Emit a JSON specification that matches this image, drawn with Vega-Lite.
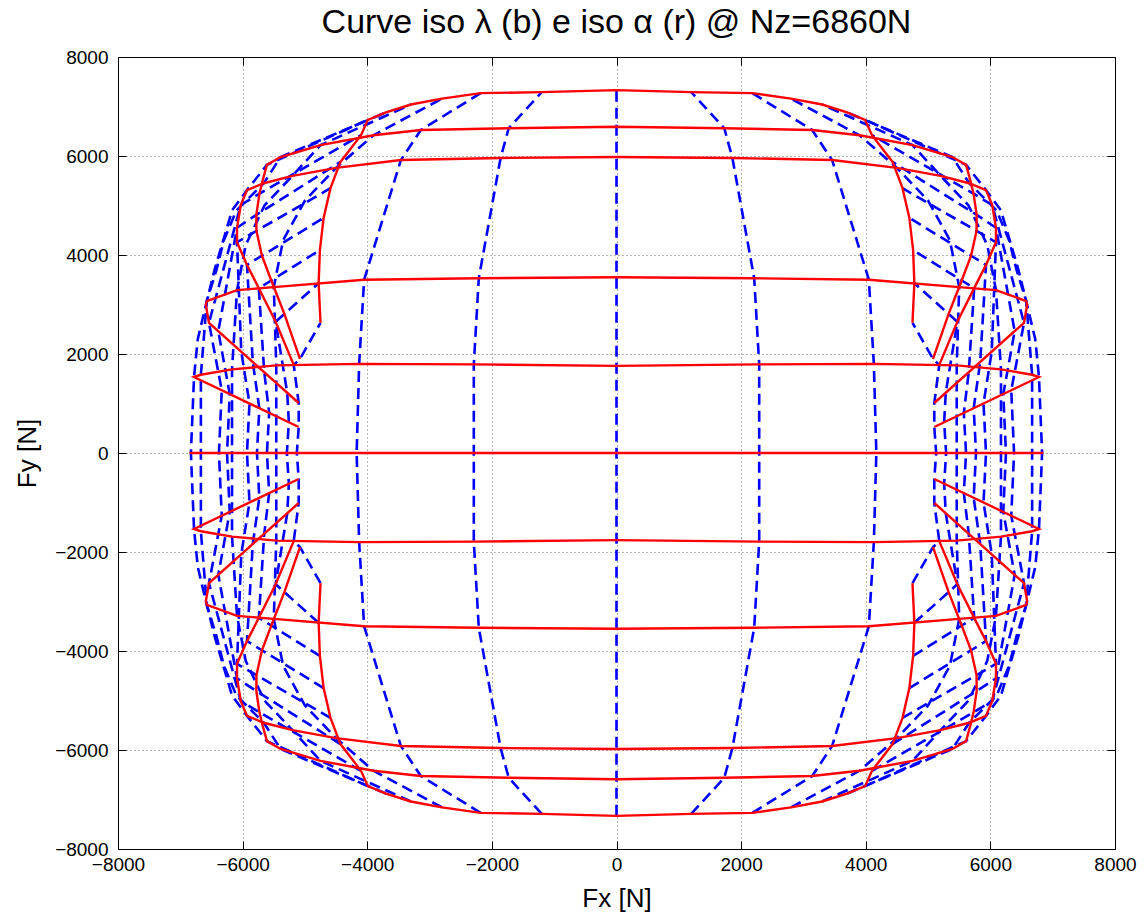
{
"$schema": "https://vega.github.io/schema/vega-lite/v6.json",
"width": 997, "height": 792,
"autosize": {"type": "none"},
"padding": {"left": 118, "top": 57, "right": 30, "bottom": 68},
"background": "white",
"title": {"text": "Curve iso λ (b) e iso α (r) @ Nz=6860N", "fontSize": 34, "font": "Liberation Sans", "fontWeight": "normal", "color": "black", "anchor": "middle", "offset": 8},
"config": {"view": {"stroke": "black", "strokeWidth": 1}},
"resolve": {"axis": {"x": "independent", "y": "independent"}},
"datasets": {
"blue": [
{"s":"b0","x":0,"y":-7330},{"s":"b0","x":0,"y":7330},
{"s":"b1R","x":1200,"y":-7290},{"s":"b1R","x":1730,"y":-6560},{"s":"b1R","x":1860,"y":-5960},{"s":"b1R","x":2210,"y":-3530},{"s":"b1R","x":2290,"y":-1790},{"s":"b1R","x":2290,"y":0},{"s":"b1R","x":2290,"y":1790},{"s":"b1R","x":2210,"y":3530},{"s":"b1R","x":1860,"y":5960},{"s":"b1R","x":1730,"y":6560},{"s":"b1R","x":1200,"y":7290},
{"s":"b1L","x":-1200,"y":-7290},{"s":"b1L","x":-1730,"y":-6560},{"s":"b1L","x":-1860,"y":-5960},{"s":"b1L","x":-2210,"y":-3530},{"s":"b1L","x":-2290,"y":-1790},{"s":"b1L","x":-2290,"y":0},{"s":"b1L","x":-2290,"y":1790},{"s":"b1L","x":-2210,"y":3530},{"s":"b1L","x":-1860,"y":5960},{"s":"b1L","x":-1730,"y":6560},{"s":"b1L","x":-1200,"y":7290},
{"s":"b2R","x":2180,"y":-7270},{"s":"b2R","x":3140,"y":-6525},{"s":"b2R","x":3460,"y":-5920},{"s":"b2R","x":4050,"y":-3500},{"s":"b2R","x":4130,"y":-1800},{"s":"b2R","x":4170,"y":0},{"s":"b2R","x":4130,"y":1800},{"s":"b2R","x":4050,"y":3500},{"s":"b2R","x":3460,"y":5920},{"s":"b2R","x":3140,"y":6525},{"s":"b2R","x":2180,"y":7270},
{"s":"b2L","x":-2180,"y":-7270},{"s":"b2L","x":-3140,"y":-6525},{"s":"b2L","x":-3460,"y":-5920},{"s":"b2L","x":-4050,"y":-3500},{"s":"b2L","x":-4130,"y":-1800},{"s":"b2L","x":-4170,"y":0},{"s":"b2L","x":-4130,"y":1800},{"s":"b2L","x":-4050,"y":3500},{"s":"b2L","x":-3460,"y":5920},{"s":"b2L","x":-3140,"y":6525},{"s":"b2L","x":-2180,"y":7270},
{"s":"b3R","x":2800,"y":-7160},{"s":"b3R","x":3900,"y":-6420},{"s":"b3R","x":4500,"y":-5760},{"s":"b3R","x":5000,"y":-5100},{"s":"b3R","x":5350,"y":-4300},{"s":"b3R","x":5500,"y":-3350},{"s":"b3R","x":5460,"y":-1770},{"s":"b3R","x":5460,"y":0},{"s":"b3R","x":5460,"y":1770},{"s":"b3R","x":5500,"y":3350},{"s":"b3R","x":5350,"y":4300},{"s":"b3R","x":5000,"y":5100},{"s":"b3R","x":4500,"y":5760},{"s":"b3R","x":3900,"y":6420},{"s":"b3R","x":2800,"y":7160},
{"s":"b3L","x":-2800,"y":-7160},{"s":"b3L","x":-3900,"y":-6420},{"s":"b3L","x":-4500,"y":-5760},{"s":"b3L","x":-5000,"y":-5100},{"s":"b3L","x":-5350,"y":-4300},{"s":"b3L","x":-5500,"y":-3350},{"s":"b3L","x":-5460,"y":-1770},{"s":"b3L","x":-5460,"y":0},{"s":"b3L","x":-5460,"y":1770},{"s":"b3L","x":-5500,"y":3350},{"s":"b3L","x":-5350,"y":4300},{"s":"b3L","x":-5000,"y":5100},{"s":"b3L","x":-4500,"y":5760},{"s":"b3L","x":-3900,"y":6420},{"s":"b3L","x":-2800,"y":7160},
{"s":"b4R","x":3300,"y":-7040},{"s":"b4R","x":4750,"y":-6220},{"s":"b4R","x":5200,"y":-5600},{"s":"b4R","x":5650,"y":-5000},{"s":"b4R","x":5950,"y":-4200},{"s":"b4R","x":6090,"y":-3290},{"s":"b4R","x":6170,"y":-1690},{"s":"b4R","x":6170,"y":0},{"s":"b4R","x":6170,"y":1690},{"s":"b4R","x":6090,"y":3290},{"s":"b4R","x":5950,"y":4200},{"s":"b4R","x":5650,"y":5000},{"s":"b4R","x":5200,"y":5600},{"s":"b4R","x":4750,"y":6220},{"s":"b4R","x":3300,"y":7040},
{"s":"b4L","x":-3300,"y":-7040},{"s":"b4L","x":-4750,"y":-6220},{"s":"b4L","x":-5200,"y":-5600},{"s":"b4L","x":-5650,"y":-5000},{"s":"b4L","x":-5950,"y":-4200},{"s":"b4L","x":-6090,"y":-3290},{"s":"b4L","x":-6170,"y":-1690},{"s":"b4L","x":-6170,"y":0},{"s":"b4L","x":-6170,"y":1690},{"s":"b4L","x":-6090,"y":3290},{"s":"b4L","x":-5950,"y":4200},{"s":"b4L","x":-5650,"y":5000},{"s":"b4L","x":-5200,"y":5600},{"s":"b4L","x":-4750,"y":6220},{"s":"b4L","x":-3300,"y":7040},
{"s":"b5R","x":3700,"y":-6880},{"s":"b5R","x":5390,"y":-5980},{"s":"b5R","x":5660,"y":-5450},{"s":"b5R","x":6100,"y":-4900},{"s":"b5R","x":6300,"y":-4300},{"s":"b5R","x":6420,"y":-3700},{"s":"b5R","x":6575,"y":-3070},{"s":"b5R","x":6670,"y":-1580},{"s":"b5R","x":6670,"y":0},{"s":"b5R","x":6670,"y":1580},{"s":"b5R","x":6575,"y":3070},{"s":"b5R","x":6420,"y":3700},{"s":"b5R","x":6300,"y":4300},{"s":"b5R","x":6100,"y":4900},{"s":"b5R","x":5660,"y":5450},{"s":"b5R","x":5390,"y":5980},{"s":"b5R","x":3700,"y":6880},
{"s":"b5L","x":-3700,"y":-6880},{"s":"b5L","x":-5390,"y":-5980},{"s":"b5L","x":-5660,"y":-5450},{"s":"b5L","x":-6100,"y":-4900},{"s":"b5L","x":-6300,"y":-4300},{"s":"b5L","x":-6420,"y":-3700},{"s":"b5L","x":-6575,"y":-3070},{"s":"b5L","x":-6670,"y":-1580},{"s":"b5L","x":-6670,"y":0},{"s":"b5L","x":-6670,"y":1580},{"s":"b5L","x":-6575,"y":3070},{"s":"b5L","x":-6420,"y":3700},{"s":"b5L","x":-6300,"y":4300},{"s":"b5L","x":-6100,"y":4900},{"s":"b5L","x":-5660,"y":5450},{"s":"b5L","x":-5390,"y":5980},{"s":"b5L","x":-3700,"y":6880},
{"s":"b6R","x":3990,"y":-6730},{"s":"b6R","x":5610,"y":-5820},{"s":"b6R","x":5930,"y":-5310},{"s":"b6R","x":6170,"y":-4900},{"s":"b6R","x":6310,"y":-4300},{"s":"b6R","x":6450,"y":-3700},{"s":"b6R","x":6590,"y":-2990},{"s":"b6R","x":6720,"y":-2300},{"s":"b6R","x":6780,"y":-1535},{"s":"b6R","x":6830,"y":0},{"s":"b6R","x":6780,"y":1535},{"s":"b6R","x":6720,"y":2300},{"s":"b6R","x":6590,"y":2990},{"s":"b6R","x":6450,"y":3700},{"s":"b6R","x":6310,"y":4300},{"s":"b6R","x":6170,"y":4900},{"s":"b6R","x":5930,"y":5310},{"s":"b6R","x":5610,"y":5820},{"s":"b6R","x":3990,"y":6730},
{"s":"b6L","x":-3990,"y":-6730},{"s":"b6L","x":-5610,"y":-5820},{"s":"b6L","x":-5930,"y":-5310},{"s":"b6L","x":-6170,"y":-4900},{"s":"b6L","x":-6310,"y":-4300},{"s":"b6L","x":-6450,"y":-3700},{"s":"b6L","x":-6590,"y":-2990},{"s":"b6L","x":-6720,"y":-2300},{"s":"b6L","x":-6780,"y":-1535},{"s":"b6L","x":-6830,"y":0},{"s":"b6L","x":-6780,"y":1535},{"s":"b6L","x":-6720,"y":2300},{"s":"b6L","x":-6590,"y":2990},{"s":"b6L","x":-6450,"y":3700},{"s":"b6L","x":-6310,"y":4300},{"s":"b6L","x":-6170,"y":4900},{"s":"b6L","x":-5930,"y":5310},{"s":"b6L","x":-5610,"y":5820},{"s":"b6L","x":-3990,"y":6730},
{"s":"b7R","x":4100,"y":-6420},{"s":"b7R","x":5730,"y":-5240},{"s":"b7R","x":6030,"y":-5010},{"s":"b7R","x":6540,"y":-2630},{"s":"b7R","x":6335,"y":-1268},{"s":"b7R","x":6380,"y":0},{"s":"b7R","x":6335,"y":1268},{"s":"b7R","x":6540,"y":2630},{"s":"b7R","x":6030,"y":5010},{"s":"b7R","x":5730,"y":5240},{"s":"b7R","x":4100,"y":6420},
{"s":"b7L","x":-4100,"y":-6420},{"s":"b7L","x":-5730,"y":-5240},{"s":"b7L","x":-6030,"y":-5010},{"s":"b7L","x":-6540,"y":-2630},{"s":"b7L","x":-6335,"y":-1268},{"s":"b7L","x":-6380,"y":0},{"s":"b7L","x":-6335,"y":1268},{"s":"b7L","x":-6540,"y":2630},{"s":"b7L","x":-6030,"y":5010},{"s":"b7L","x":-5730,"y":5240},{"s":"b7L","x":-4100,"y":6420},
{"s":"b8R","x":4430,"y":-5880},{"s":"b8R","x":5780,"y":-4810},{"s":"b8R","x":6090,"y":-4550},{"s":"b8R","x":6390,"y":-2461},{"s":"b8R","x":6207,"y":-1190},{"s":"b8R","x":6250,"y":0},{"s":"b8R","x":6207,"y":1190},{"s":"b8R","x":6390,"y":2461},{"s":"b8R","x":6090,"y":4550},{"s":"b8R","x":5780,"y":4810},{"s":"b8R","x":4430,"y":5880},
{"s":"b8L","x":-4430,"y":-5880},{"s":"b8L","x":-5780,"y":-4810},{"s":"b8L","x":-6090,"y":-4550},{"s":"b8L","x":-6390,"y":-2461},{"s":"b8L","x":-6207,"y":-1190},{"s":"b8L","x":-6250,"y":0},{"s":"b8L","x":-6207,"y":1190},{"s":"b8L","x":-6390,"y":2461},{"s":"b8L","x":-6090,"y":4550},{"s":"b8L","x":-5780,"y":4810},{"s":"b8L","x":-4430,"y":5880},
{"s":"b9R","x":4590,"y":-5350},{"s":"b9R","x":5778,"y":-4487},{"s":"b9R","x":6090,"y":-4260},{"s":"b9R","x":6022,"y":-2047},{"s":"b9R","x":5890,"y":-1000},{"s":"b9R","x":5930,"y":0},{"s":"b9R","x":5890,"y":1000},{"s":"b9R","x":6022,"y":2047},{"s":"b9R","x":6090,"y":4260},{"s":"b9R","x":5778,"y":4487},{"s":"b9R","x":4590,"y":5350},
{"s":"b9L","x":-4590,"y":-5350},{"s":"b9L","x":-5778,"y":-4487},{"s":"b9L","x":-6090,"y":-4260},{"s":"b9L","x":-6022,"y":-2047},{"s":"b9L","x":-5890,"y":-1000},{"s":"b9L","x":-5930,"y":0},{"s":"b9L","x":-5890,"y":1000},{"s":"b9L","x":-6022,"y":2047},{"s":"b9L","x":-6090,"y":4260},{"s":"b9L","x":-5778,"y":4487},{"s":"b9L","x":-4590,"y":5350},
{"s":"b10R","x":4700,"y":-4750},{"s":"b10R","x":5690,"y":-3985},{"s":"b10R","x":5930,"y":-3800},{"s":"b10R","x":5837,"y":-1839},{"s":"b10R","x":5732,"y":-905},{"s":"b10R","x":5770,"y":0},{"s":"b10R","x":5732,"y":905},{"s":"b10R","x":5837,"y":1839},{"s":"b10R","x":5930,"y":3800},{"s":"b10R","x":5690,"y":3985},{"s":"b10R","x":4700,"y":4750},
{"s":"b10L","x":-4700,"y":-4750},{"s":"b10L","x":-5690,"y":-3985},{"s":"b10L","x":-5930,"y":-3800},{"s":"b10L","x":-5837,"y":-1839},{"s":"b10L","x":-5732,"y":-905},{"s":"b10L","x":-5770,"y":0},{"s":"b10L","x":-5732,"y":905},{"s":"b10L","x":-5837,"y":1839},{"s":"b10L","x":-5930,"y":3800},{"s":"b10L","x":-5690,"y":3985},{"s":"b10L","x":-4700,"y":4750},
{"s":"b11R","x":4760,"y":-4100},{"s":"b11R","x":5540,"y":-3485},{"s":"b11R","x":5740,"y":-3330},{"s":"b11R","x":5653,"y":-1632},{"s":"b11R","x":5574,"y":-810},{"s":"b11R","x":5610,"y":0},{"s":"b11R","x":5574,"y":810},{"s":"b11R","x":5653,"y":1632},{"s":"b11R","x":5740,"y":3330},{"s":"b11R","x":5540,"y":3485},{"s":"b11R","x":4760,"y":4100},
{"s":"b11L","x":-4760,"y":-4100},{"s":"b11L","x":-5540,"y":-3485},{"s":"b11L","x":-5740,"y":-3330},{"s":"b11L","x":-5653,"y":-1632},{"s":"b11L","x":-5574,"y":-810},{"s":"b11L","x":-5610,"y":0},{"s":"b11L","x":-5574,"y":810},{"s":"b11L","x":-5653,"y":1632},{"s":"b11L","x":-5740,"y":3330},{"s":"b11L","x":-5540,"y":3485},{"s":"b11L","x":-4760,"y":4100},
{"s":"b12R","x":4780,"y":-3430},{"s":"b12R","x":5330,"y":-2810},{"s":"b12R","x":5470,"y":-2650},{"s":"b12R","x":5284,"y":-1217},{"s":"b12R","x":5258,"y":-620},{"s":"b12R","x":5290,"y":0},{"s":"b12R","x":5258,"y":620},{"s":"b12R","x":5284,"y":1217},{"s":"b12R","x":5470,"y":2650},{"s":"b12R","x":5330,"y":2810},{"s":"b12R","x":4780,"y":3430},
{"s":"b12L","x":-4780,"y":-3430},{"s":"b12L","x":-5330,"y":-2810},{"s":"b12L","x":-5470,"y":-2650},{"s":"b12L","x":-5284,"y":-1217},{"s":"b12L","x":-5258,"y":-620},{"s":"b12L","x":-5290,"y":0},{"s":"b12L","x":-5258,"y":620},{"s":"b12L","x":-5284,"y":1217},{"s":"b12L","x":-5470,"y":2650},{"s":"b12L","x":-5330,"y":2810},{"s":"b12L","x":-4780,"y":3430},
{"s":"b13R","x":4750,"y":-2630},{"s":"b13R","x":5080,"y":-1900},{"s":"b13R","x":5180,"y":-1780},{"s":"b13R","x":5100,"y":-1010},{"s":"b13R","x":5100,"y":-525},{"s":"b13R","x":5130,"y":0},{"s":"b13R","x":5100,"y":525},{"s":"b13R","x":5100,"y":1010},{"s":"b13R","x":5180,"y":1780},{"s":"b13R","x":5080,"y":1900},{"s":"b13R","x":4750,"y":2630},
{"s":"b13L","x":-4750,"y":-2630},{"s":"b13L","x":-5080,"y":-1900},{"s":"b13L","x":-5180,"y":-1780},{"s":"b13L","x":-5100,"y":-1010},{"s":"b13L","x":-5100,"y":-525},{"s":"b13L","x":-5130,"y":0},{"s":"b13L","x":-5100,"y":525},{"s":"b13L","x":-5100,"y":1010},{"s":"b13L","x":-5180,"y":1780},{"s":"b13L","x":-5080,"y":1900},{"s":"b13L","x":-4750,"y":2630}
],
"red": [
{"s":"a0","x":-6850,"y":0},{"s":"a0","x":6850,"y":0},
{"s":"a1U","x":-5100,"y":525},{"s":"a1U","x":-6780,"y":1535},{"s":"a1U","x":-6670,"y":1580},{"s":"a1U","x":-6170,"y":1690},{"s":"a1U","x":-5460,"y":1770},{"s":"a1U","x":-4130,"y":1800},{"s":"a1U","x":-2290,"y":1790},{"s":"a1U","x":0,"y":1760},{"s":"a1U","x":2290,"y":1790},{"s":"a1U","x":4130,"y":1800},{"s":"a1U","x":5460,"y":1770},{"s":"a1U","x":6170,"y":1690},{"s":"a1U","x":6670,"y":1580},{"s":"a1U","x":6780,"y":1535},{"s":"a1U","x":5100,"y":525},
{"s":"a1D","x":-5100,"y":-525},{"s":"a1D","x":-6780,"y":-1535},{"s":"a1D","x":-6670,"y":-1580},{"s":"a1D","x":-6170,"y":-1690},{"s":"a1D","x":-5460,"y":-1770},{"s":"a1D","x":-4130,"y":-1800},{"s":"a1D","x":-2290,"y":-1790},{"s":"a1D","x":0,"y":-1760},{"s":"a1D","x":2290,"y":-1790},{"s":"a1D","x":4130,"y":-1800},{"s":"a1D","x":5460,"y":-1770},{"s":"a1D","x":6170,"y":-1690},{"s":"a1D","x":6670,"y":-1580},{"s":"a1D","x":6780,"y":-1535},{"s":"a1D","x":5100,"y":-525},
{"s":"a2U","x":-5100,"y":1010},{"s":"a2U","x":-6540,"y":2630},{"s":"a2U","x":-6590,"y":2990},{"s":"a2U","x":-6575,"y":3070},{"s":"a2U","x":-6090,"y":3290},{"s":"a2U","x":-5500,"y":3350},{"s":"a2U","x":-4050,"y":3500},{"s":"a2U","x":-2210,"y":3530},{"s":"a2U","x":0,"y":3550},{"s":"a2U","x":2210,"y":3530},{"s":"a2U","x":4050,"y":3500},{"s":"a2U","x":5500,"y":3350},{"s":"a2U","x":6090,"y":3290},{"s":"a2U","x":6575,"y":3070},{"s":"a2U","x":6590,"y":2990},{"s":"a2U","x":6540,"y":2630},{"s":"a2U","x":5100,"y":1010},
{"s":"a2D","x":-5100,"y":-1010},{"s":"a2D","x":-6540,"y":-2630},{"s":"a2D","x":-6590,"y":-2990},{"s":"a2D","x":-6575,"y":-3070},{"s":"a2D","x":-6090,"y":-3290},{"s":"a2D","x":-5500,"y":-3350},{"s":"a2D","x":-4050,"y":-3500},{"s":"a2D","x":-2210,"y":-3530},{"s":"a2D","x":0,"y":-3550},{"s":"a2D","x":2210,"y":-3530},{"s":"a2D","x":4050,"y":-3500},{"s":"a2D","x":5500,"y":-3350},{"s":"a2D","x":6090,"y":-3290},{"s":"a2D","x":6575,"y":-3070},{"s":"a2D","x":6590,"y":-2990},{"s":"a2D","x":6540,"y":-2630},{"s":"a2D","x":5100,"y":-1010},
{"s":"a3U","x":-5180,"y":1780},{"s":"a3U","x":-5470,"y":2650},{"s":"a3U","x":-5740,"y":3330},{"s":"a3U","x":-5930,"y":3800},{"s":"a3U","x":-6090,"y":4260},{"s":"a3U","x":-6090,"y":4550},{"s":"a3U","x":-6030,"y":5010},{"s":"a3U","x":-5930,"y":5310},{"s":"a3U","x":-5660,"y":5450},{"s":"a3U","x":-5200,"y":5600},{"s":"a3U","x":-4500,"y":5760},{"s":"a3U","x":-3460,"y":5920},{"s":"a3U","x":-1860,"y":5960},{"s":"a3U","x":0,"y":5980},{"s":"a3U","x":1860,"y":5960},{"s":"a3U","x":3460,"y":5920},{"s":"a3U","x":4500,"y":5760},{"s":"a3U","x":5200,"y":5600},{"s":"a3U","x":5660,"y":5450},{"s":"a3U","x":5930,"y":5310},{"s":"a3U","x":6030,"y":5010},{"s":"a3U","x":6090,"y":4550},{"s":"a3U","x":6090,"y":4260},{"s":"a3U","x":5930,"y":3800},{"s":"a3U","x":5740,"y":3330},{"s":"a3U","x":5470,"y":2650},{"s":"a3U","x":5180,"y":1780},
{"s":"a3D","x":-5180,"y":-1780},{"s":"a3D","x":-5470,"y":-2650},{"s":"a3D","x":-5740,"y":-3330},{"s":"a3D","x":-5930,"y":-3800},{"s":"a3D","x":-6090,"y":-4260},{"s":"a3D","x":-6090,"y":-4550},{"s":"a3D","x":-6030,"y":-5010},{"s":"a3D","x":-5930,"y":-5310},{"s":"a3D","x":-5660,"y":-5450},{"s":"a3D","x":-5200,"y":-5600},{"s":"a3D","x":-4500,"y":-5760},{"s":"a3D","x":-3460,"y":-5920},{"s":"a3D","x":-1860,"y":-5960},{"s":"a3D","x":0,"y":-5980},{"s":"a3D","x":1860,"y":-5960},{"s":"a3D","x":3460,"y":-5920},{"s":"a3D","x":4500,"y":-5760},{"s":"a3D","x":5200,"y":-5600},{"s":"a3D","x":5660,"y":-5450},{"s":"a3D","x":5930,"y":-5310},{"s":"a3D","x":6030,"y":-5010},{"s":"a3D","x":6090,"y":-4550},{"s":"a3D","x":6090,"y":-4260},{"s":"a3D","x":5930,"y":-3800},{"s":"a3D","x":5740,"y":-3330},{"s":"a3D","x":5470,"y":-2650},{"s":"a3D","x":5180,"y":-1780},
{"s":"a4U","x":-5080,"y":1900},{"s":"a4U","x":-5330,"y":2810},{"s":"a4U","x":-5540,"y":3485},{"s":"a4U","x":-5690,"y":3985},{"s":"a4U","x":-5778,"y":4487},{"s":"a4U","x":-5780,"y":4810},{"s":"a4U","x":-5730,"y":5240},{"s":"a4U","x":-5680,"y":5500},{"s":"a4U","x":-5610,"y":5820},{"s":"a4U","x":-5390,"y":5980},{"s":"a4U","x":-4750,"y":6220},{"s":"a4U","x":-3900,"y":6420},{"s":"a4U","x":-3140,"y":6525},{"s":"a4U","x":-1730,"y":6560},{"s":"a4U","x":0,"y":6590},{"s":"a4U","x":1730,"y":6560},{"s":"a4U","x":3140,"y":6525},{"s":"a4U","x":3900,"y":6420},{"s":"a4U","x":4750,"y":6220},{"s":"a4U","x":5390,"y":5980},{"s":"a4U","x":5610,"y":5820},{"s":"a4U","x":5680,"y":5500},{"s":"a4U","x":5730,"y":5240},{"s":"a4U","x":5780,"y":4810},{"s":"a4U","x":5778,"y":4487},{"s":"a4U","x":5690,"y":3985},{"s":"a4U","x":5540,"y":3485},{"s":"a4U","x":5330,"y":2810},{"s":"a4U","x":5080,"y":1900},
{"s":"a4D","x":-5080,"y":-1900},{"s":"a4D","x":-5330,"y":-2810},{"s":"a4D","x":-5540,"y":-3485},{"s":"a4D","x":-5690,"y":-3985},{"s":"a4D","x":-5778,"y":-4487},{"s":"a4D","x":-5780,"y":-4810},{"s":"a4D","x":-5730,"y":-5240},{"s":"a4D","x":-5680,"y":-5500},{"s":"a4D","x":-5610,"y":-5820},{"s":"a4D","x":-5390,"y":-5980},{"s":"a4D","x":-4750,"y":-6220},{"s":"a4D","x":-3900,"y":-6420},{"s":"a4D","x":-3140,"y":-6525},{"s":"a4D","x":-1730,"y":-6560},{"s":"a4D","x":0,"y":-6590},{"s":"a4D","x":1730,"y":-6560},{"s":"a4D","x":3140,"y":-6525},{"s":"a4D","x":3900,"y":-6420},{"s":"a4D","x":4750,"y":-6220},{"s":"a4D","x":5390,"y":-5980},{"s":"a4D","x":5610,"y":-5820},{"s":"a4D","x":5680,"y":-5500},{"s":"a4D","x":5730,"y":-5240},{"s":"a4D","x":5780,"y":-4810},{"s":"a4D","x":5778,"y":-4487},{"s":"a4D","x":5690,"y":-3985},{"s":"a4D","x":5540,"y":-3485},{"s":"a4D","x":5330,"y":-2810},{"s":"a4D","x":5080,"y":-1900},
{"s":"a5U","x":-4750,"y":2630},{"s":"a5U","x":-4780,"y":3430},{"s":"a5U","x":-4760,"y":4100},{"s":"a5U","x":-4700,"y":4750},{"s":"a5U","x":-4590,"y":5350},{"s":"a5U","x":-4430,"y":5880},{"s":"a5U","x":-4100,"y":6420},{"s":"a5U","x":-3990,"y":6730},{"s":"a5U","x":-3700,"y":6880},{"s":"a5U","x":-3300,"y":7040},{"s":"a5U","x":-2800,"y":7160},{"s":"a5U","x":-2180,"y":7270},{"s":"a5U","x":-1200,"y":7290},{"s":"a5U","x":0,"y":7330},{"s":"a5U","x":1200,"y":7290},{"s":"a5U","x":2180,"y":7270},{"s":"a5U","x":2800,"y":7160},{"s":"a5U","x":3300,"y":7040},{"s":"a5U","x":3700,"y":6880},{"s":"a5U","x":3990,"y":6730},{"s":"a5U","x":4100,"y":6420},{"s":"a5U","x":4430,"y":5880},{"s":"a5U","x":4590,"y":5350},{"s":"a5U","x":4700,"y":4750},{"s":"a5U","x":4760,"y":4100},{"s":"a5U","x":4780,"y":3430},{"s":"a5U","x":4750,"y":2630},
{"s":"a5D","x":-4750,"y":-2630},{"s":"a5D","x":-4780,"y":-3430},{"s":"a5D","x":-4760,"y":-4100},{"s":"a5D","x":-4700,"y":-4750},{"s":"a5D","x":-4590,"y":-5350},{"s":"a5D","x":-4430,"y":-5880},{"s":"a5D","x":-4100,"y":-6420},{"s":"a5D","x":-3990,"y":-6730},{"s":"a5D","x":-3700,"y":-6880},{"s":"a5D","x":-3300,"y":-7040},{"s":"a5D","x":-2800,"y":-7160},{"s":"a5D","x":-2180,"y":-7270},{"s":"a5D","x":-1200,"y":-7290},{"s":"a5D","x":0,"y":-7330},{"s":"a5D","x":1200,"y":-7290},{"s":"a5D","x":2180,"y":-7270},{"s":"a5D","x":2800,"y":-7160},{"s":"a5D","x":3300,"y":-7040},{"s":"a5D","x":3700,"y":-6880},{"s":"a5D","x":3990,"y":-6730},{"s":"a5D","x":4100,"y":-6420},{"s":"a5D","x":4430,"y":-5880},{"s":"a5D","x":4590,"y":-5350},{"s":"a5D","x":4700,"y":-4750},{"s":"a5D","x":4760,"y":-4100},{"s":"a5D","x":4780,"y":-3430},{"s":"a5D","x":4750,"y":-2630}
]
},
"layer": [
{"data": {"name": "blue"},
 "mark": {"type": "line", "color": "#0000ff", "strokeWidth": 2.6, "strokeDash": [11, 6], "clip": true},
 "encoding": {
  "x": {"field": "x", "type": "quantitative", "scale": {"domain": [-8000, 8000], "nice": false, "zero": false},
        "axis": {"values": [-8000,-6000,-4000,-2000,0,2000,4000,6000,8000], "format": "d", "title": "Fx [N]",
                 "titleFont": "Liberation Sans", "titleFontSize": 26, "titleFontWeight": "normal", "titleColor": "black", "titlePadding": 11,
                 "labelFont": "Liberation Sans", "labelFontSize": 19, "labelColor": "black", "labelPadding": 14, "labelFlush": false, "labelOverlap": false,
                 "tickSize": -8, "tickColor": "black", "domain": false,
                 "grid": true, "gridDash": [1, 3], "gridColor": "#000000", "gridOpacity": 0.6}},
  "y": {"field": "y", "type": "quantitative", "scale": {"domain": [-8000, 8000], "nice": false, "zero": false},
        "axis": {"values": [-8000,-6000,-4000,-2000,0,2000,4000,6000,8000], "format": "d", "title": "Fy [N]",
                 "titleFont": "Liberation Sans", "titleFontSize": 26, "titleFontWeight": "normal", "titleColor": "black", "titlePadding": 14,
                 "labelFont": "Liberation Sans", "labelFontSize": 19, "labelColor": "black", "labelPadding": 18, "labelFlush": false, "labelOverlap": false,
                 "tickSize": -8, "tickColor": "black", "domain": false,
                 "grid": true, "gridDash": [1, 3], "gridColor": "#000000", "gridOpacity": 0.6}},
  "detail": {"field": "s"},
  "order": {"value": null}
 }},
{"data": {"name": "red"},
 "mark": {"type": "line", "color": "#ff0000", "strokeWidth": 2.4, "clip": true},
 "encoding": {
  "x": {"field": "x", "type": "quantitative",
        "axis": {"orient": "top", "values": [-8000,-6000,-4000,-2000,0,2000,4000,6000,8000], "labels": false, "title": null, "grid": false, "domain": false, "tickSize": -8, "tickColor": "black"}},
  "y": {"field": "y", "type": "quantitative",
        "axis": {"orient": "right", "values": [-8000,-6000,-4000,-2000,0,2000,4000,6000,8000], "labels": false, "title": null, "grid": false, "domain": false, "tickSize": -8, "tickColor": "black"}},
  "detail": {"field": "s"},
  "order": {"value": null}
 }}
]
}
